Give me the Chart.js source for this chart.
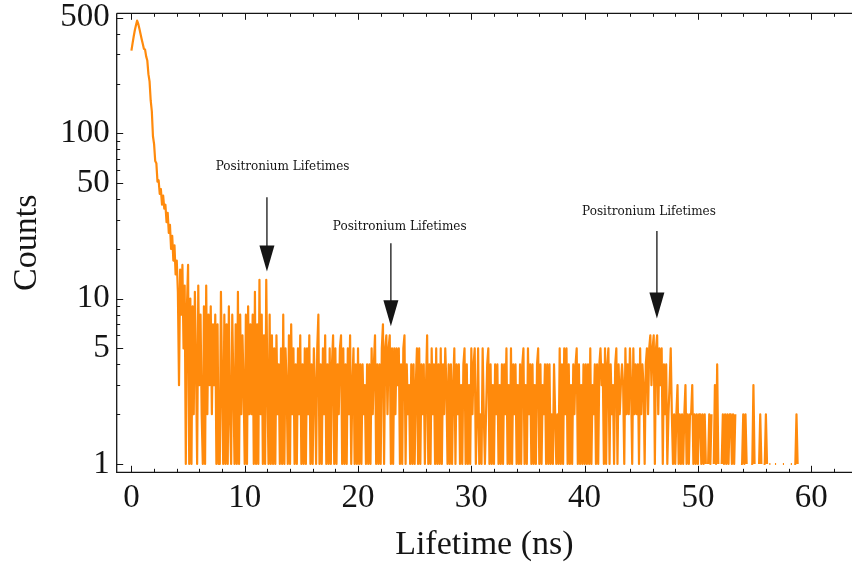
<!DOCTYPE html>
<html>
<head>
<meta charset="utf-8">
<script src="https://cdn.jsdelivr.net/npm/chart.js@4.4.1/dist/chart.umd.min.js"></script>
<style>
  html, body { margin: 0; padding: 0; background: #ffffff; }
  #wrap { width: 852px; height: 564px; overflow: hidden; }
</style>
</head>
<body>
<div id="wrap"><canvas id="c" width="852" height="564"></canvas></div>
<script>
// ---- data: histogram counts, one value per 0.1 ns bin starting at 0.0 ns ----
const BIN_NS = 0.1;
// 0.0 - 4.9 ns
const countsPeak = [
  316, 350, 385, 420, 450, 480, 460, 430, 400, 372,
  348, 325, 322, 292, 276, 228, 206, 158, 136, 96,
  86, 68, 66, 51, 52, 43, 46, 37, 42, 35,
  37, 29, 33, 25, 28, 20, 24, 17, 21, 14,
  17, 11, 3, 15, 8, 16, 5, 12, 1, 9
];
// 5.0 - 12.4 ns
const countsEarly = [
  16, 1, 10, 1, 9, 2, 11, 4, 1, 12,
  3, 8, 2, 1, 9, 1, 12, 2, 8, 3,
  9, 2, 7, 3, 8, 1, 7, 1, 1, 11,
  3, 1, 8, 1, 7, 1, 9, 2, 1, 8,
  3, 1, 7, 1, 11, 1, 8, 2, 6, 3,
  1, 8, 1, 9, 2, 7, 2, 8, 1, 11,
  1, 7, 1, 13, 2, 8, 1, 6, 1, 13,
  3, 1, 8, 1, 6
];
// 12.5 - 20.0 ns
const countsMid1 = [
  1, 5, 1, 6, 2, 4, 1, 5, 1, 8,
  1, 5, 3, 1, 6, 1, 7, 2, 5, 1,
  4, 1, 5, 2, 6, 1, 4, 1, 5, 1,
  5, 2, 6, 1, 4, 1, 5, 3, 1, 5,
  8, 1, 4, 1, 5, 2, 6, 1, 4, 1,
  5, 1, 4, 6, 1, 5, 1, 4, 2, 5,
  6, 1, 5, 1, 4, 1, 5, 2, 6, 1,
  3, 5, 1, 4, 1, 5
];
// 20.1 - 27.0 ns
const countsMid2 = [
  1, 4, 1, 4, 2, 3, 1, 4, 1, 4,
  1, 5, 2, 4, 6, 1, 4, 1, 4, 1,
  5, 7, 1, 5, 6, 2, 5, 6, 1, 5,
  1, 5, 2, 5, 3, 5, 1, 4, 1, 5,
  6, 1, 4, 2, 3, 1, 4, 1, 4, 1,
  3, 5, 1, 5, 1, 4, 2, 4, 1, 3,
  6, 1, 4, 1, 5, 2, 4, 1, 5, 1
];
// 27.1 - 40.0 ns
const countsMid3 = [
  4, 1, 5, 1, 4, 2, 5, 3, 1, 4,
  1, 4, 1, 3, 5, 1, 4, 2, 4, 1,
  3, 1, 4, 5, 1, 4, 1, 3, 1, 5,
  2, 4, 5, 1, 2, 5, 1, 2, 1, 5,
  2, 1, 2, 4, 5, 1, 4, 1, 3, 1,
  4, 2, 4, 1, 3, 1, 4, 1, 4, 2,
  5, 1, 3, 1, 5, 1, 4, 2, 4, 1,
  3, 1, 4, 1, 4, 5, 1, 3, 1, 5,
  2, 4, 1, 4, 1, 3, 1, 4, 5, 1,
  4, 1, 3, 2, 4, 1, 4, 1, 4, 1,
  2, 1, 4, 2, 1, 2, 1, 5, 1, 4,
  1, 5, 2, 5, 1, 4, 1, 3, 1, 4,
  2, 4, 5, 1, 4, 1, 3, 1, 4, 1
];
// 40.1 - 45.4 ns
const countsLate = [
  4, 1, 4, 1, 5, 1, 3, 2, 4, 1,
  4, 1, 4, 5, 3, 4, 1, 5, 1, 4,
  5, 1, 4, 2, 3, 1, 4, 5, 1, 4,
  2, 3, 4, 3, 1, 5, 2, 4, 2, 5,
  3, 1, 5, 2, 4, 2, 4, 1, 5, 2,
  4, 3, 1, 4
];
// 45.5 - 47.2 ns
const countsBump = [5, 2, 5, 6, 3, 5, 6, 1, 5, 6, 2, 5, 3, 5, 1, 4, 2, 4];
// 47.3 - 50.6 ns
const countsTail1 = [
  1, 2, 3, 5, 2, 1, 2, 1, 2, 3,
  1, 2, 1, 2, 1, 2, 3, 1, 2, 1,
  2, 2, 3, 1, 2, 1, 2, 1, 2, 2,
  1, 2, 1, 2
];
// 50.7 - 59.0 ns (null = empty bin)
const countsTail2 = [
  1, null, 1, 2, 1, 2, null, 1, 3, 1,
  4, 1, null, null, 1, 2, 1, 2, 1, 2,
  1, 2, 2, 1, 2, 1, 2, null, 1, null,
  null, 1, 1, 2, 1, 2, 1, null, 1, null,
  1, 1, 3, 1, null, 1, null, 1, 2, 1,
  null, 1, 1, 2, 1, null, 1, 1, null, 1,
  null, 1, 1, null, 1, null, 1, null, 1, 1,
  null, 1, null, 1, null, 1, 1, null, 1, 1,
  2, 1, null, null
];

// ---- axes ----
const X_TICKS = [0, 10, 20, 30, 40, 50, 60];
const X_MINOR = [2, 4, 6, 8, 12, 14, 16, 18, 22, 24, 26, 28, 32, 34, 36, 38, 42, 44, 46, 48, 52, 54, 56, 58, 62];
const Y_TICKS = [1, 5, 10, 50, 100, 500];
const Y_MINOR = [2, 3, 4, 6, 7, 8, 9, 20, 30, 40, 60, 70, 80, 90, 200, 300, 400];

// ---- annotations (data coordinates) ----
const NOTES = [
  { text: 'Positronium Lifetimes', tx: 13.34, ty: 63,   ax: 11.96, from: 41,   to: 14.6 },
  { text: 'Positronium Lifetimes', tx: 23.68, ty: 27.3, ax: 22.9,  from: 21.6, to: 6.8 },
  { text: 'Positronium Lifetimes', tx: 45.68, ty: 33.6, ax: 46.38, from: 25.7, to: 7.6 }
];

const counts = [].concat(countsPeak, countsEarly, countsMid1, countsMid2, countsMid3,
                         countsLate, countsBump, countsTail1, countsTail2);
const points = counts.map((c, i) => ({ x: +(i * BIN_NS).toFixed(2), y: c }));

const SERIF = '"Liberation Serif", "Times New Roman", serif';
const INK = '#151515';

const framePlugin = {
  id: 'frame',
  afterDraw(chart) {
    const { ctx, chartArea: a, scales: { x, y } } = chart;
    ctx.save();
    ctx.strokeStyle = INK;
    ctx.lineWidth = 1.3;
    ctx.beginPath();
    ctx.moveTo(a.left, a.top); ctx.lineTo(a.right, a.top);
    ctx.moveTo(a.left, a.top); ctx.lineTo(a.left, a.bottom); ctx.lineTo(a.right, a.bottom);
    ctx.stroke();
    ctx.lineWidth = 1;
    ctx.beginPath();
    const xt = (v, len) => {
      const px = Math.round(x.getPixelForValue(v)) + 0.5;
      if (px < a.left || px > a.right) return;
      ctx.moveTo(px, a.bottom); ctx.lineTo(px, a.bottom - len);
      ctx.moveTo(px, a.top); ctx.lineTo(px, a.top + len);
    };
    X_TICKS.forEach(v => xt(v, 6.5));
    X_MINOR.forEach(v => xt(v, 3.5));
    const yt = (v, len) => {
      const py = Math.round(y.getPixelForValue(v)) + 0.5;
      ctx.moveTo(a.left, py); ctx.lineTo(a.left + len, py);
    };
    Y_TICKS.forEach(v => yt(v, 6.5));
    Y_MINOR.forEach(v => yt(v, 3.5));
    ctx.stroke();

    // arrows and labels
    ctx.fillStyle = INK;
    ctx.strokeStyle = INK;
    ctx.lineWidth = 1.3;
    NOTES.forEach(n => {
      const ax = x.getPixelForValue(n.ax);
      const y0 = y.getPixelForValue(n.from);
      const y1 = y.getPixelForValue(n.to);
      const headLen = 26, headW = 7.5;
      ctx.beginPath();
      ctx.moveTo(ax, y0); ctx.lineTo(ax, y1 - headLen + 1);
      ctx.stroke();
      ctx.beginPath();
      ctx.moveTo(ax - headW, y1 - headLen);
      ctx.lineTo(ax + headW, y1 - headLen);
      ctx.lineTo(ax, y1);
      ctx.closePath();
      ctx.fill();
      ctx.font = '12px "DejaVu Serif", serif';
      ctx.textAlign = 'center';
      ctx.textBaseline = 'middle';
      ctx.fillText(n.text, x.getPixelForValue(n.tx), y.getPixelForValue(n.ty));
    });
    ctx.restore();
  }
};

new Chart(document.getElementById('c'), {
  type: 'line',
  data: {
    datasets: [{
      data: points,
      borderColor: '#ff8a0c',
      borderWidth: 2.2,
      borderJoinStyle: 'round',
      pointRadius: 0,
      tension: 0,
      spanGaps: false,
      fill: false
    }]
  },
  options: {
    responsive: false,
    animation: false,
    devicePixelRatio: 1,
    layout: { padding: { top: 13.3, right: 0, bottom: 0, left: 0 } },
    plugins: { legend: { display: false }, tooltip: { enabled: false } },
    scales: {
      x: {
        type: 'linear',
        min: -1.3,
        max: 63.6,
        bounds: 'data',
        grid: { display: false, drawTicks: false },
        border: { display: false },
        afterBuildTicks: s => { s.ticks = X_TICKS.map(v => ({ value: v })); },
        afterFit: s => { s.height = 91.7; s.paddingLeft = 0; s.paddingRight = 0; },
        ticks: {
          autoSkip: false, maxRotation: 0, padding: 10, color: INK,
          font: { family: SERIF, size: 33, lineHeight: 1 },
          callback: v => String(v)
        },
        title: {
          display: true, text: 'Lifetime (ns)', color: INK,
          font: { family: SERIF, size: 34, lineHeight: 1 },
          padding: { top: 0, bottom: 2 }
        }
      },
      y: {
        type: 'logarithmic',
        min: 0.891,
        max: 532,
        bounds: 'data',
        grid: { display: false, drawTicks: false },
        border: { display: false },
        afterBuildTicks: s => { s.ticks = Y_TICKS.map(v => ({ value: v })); },
        afterFit: s => { s.width = 116.7; s.paddingTop = 0; s.paddingBottom = 0; },
        ticks: {
          autoSkip: false, padding: 7, color: INK,
          font: { family: SERIF, size: 33, lineHeight: 1 },
          callback: v => String(v)
        },
        title: {
          display: true, text: 'Counts', color: INK,
          font: { family: SERIF, size: 34, lineHeight: 1 },
          padding: { top: 10, bottom: 0 }
        }
      }
    }
  },
  plugins: [framePlugin]
});
</script>
</body>
</html>
